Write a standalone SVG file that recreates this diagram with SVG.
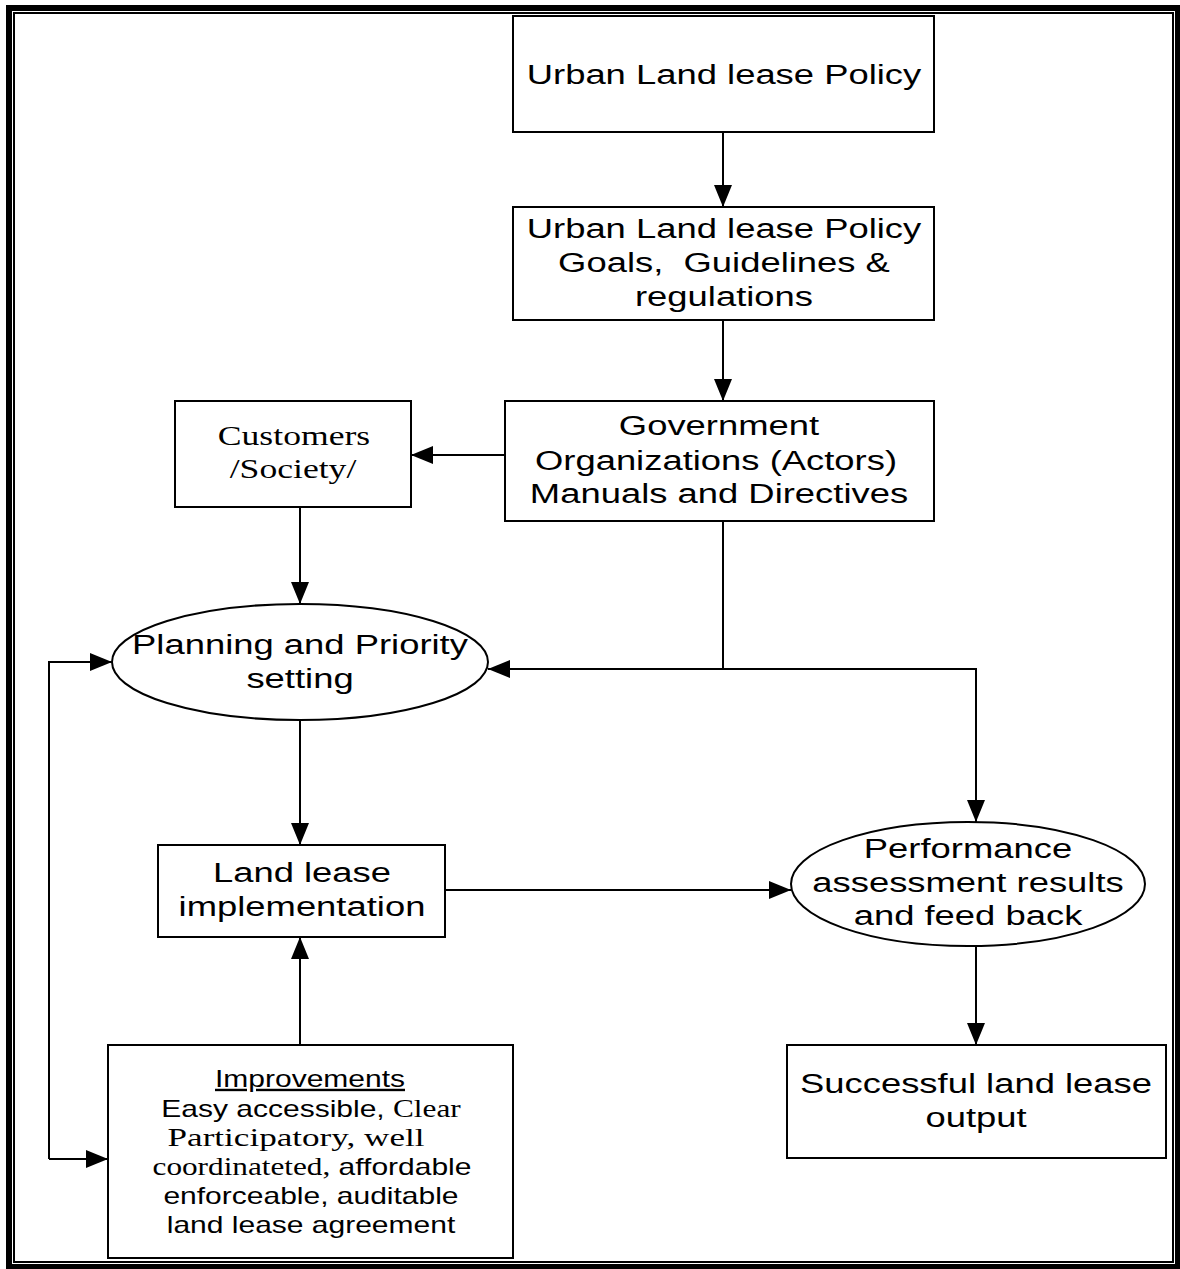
<svg xmlns="http://www.w3.org/2000/svg" width="1180" height="1269" viewBox="0 0 1180 1269">
  <style>
    .box { fill: #fff; stroke: #000; stroke-width: 2; }
    .wire { fill: none; stroke: #000; stroke-width: 2; }
    .sans { font-family: "Liberation Sans", Arial, sans-serif; font-size: 28px; fill: #000; text-anchor: middle; }
    .serif { font-family: "Liberation Serif", "Times New Roman", serif; fill: #000; }
    .small { font-family: "Liberation Sans", Arial, sans-serif; font-size: 24px; fill: #000; text-anchor: middle; }
  </style>
  <defs>
    <marker id="arrow" viewBox="0 0 22 18" refX="22" refY="9" markerWidth="22" markerHeight="18" markerUnits="userSpaceOnUse" orient="auto">
      <path d="M0,0 L22,9 L0,18 Z" fill="#000"/>
    </marker>
  </defs>

  <rect width="1180" height="1269" fill="#fff"/>

  <!-- page frame: thick outer line with thin inner line -->
  <rect x="9" y="8" width="1169" height="1259" fill="none" stroke="#000" stroke-width="6"/>
  <rect x="14" y="13" width="1159" height="1249" fill="none" stroke="#000" stroke-width="2"/>

  <g id="connectors">
    <line class="wire" x1="723" y1="132" x2="723" y2="207" marker-end="url(#arrow)"/>
    <line class="wire" x1="723" y1="320" x2="723" y2="401" marker-end="url(#arrow)"/>
    <line class="wire" x1="505" y1="455" x2="411" y2="455" marker-end="url(#arrow)"/>
    <line class="wire" x1="300" y1="507" x2="300" y2="604" marker-end="url(#arrow)"/>
    <polyline class="wire" points="723,521 723,669 488,669" marker-end="url(#arrow)"/>
    <polyline class="wire" points="723,669 976,669 976,822" marker-end="url(#arrow)"/>
    <line class="wire" x1="300" y1="720" x2="300" y2="845" marker-end="url(#arrow)"/>
    <line class="wire" x1="445" y1="890" x2="791" y2="890" marker-end="url(#arrow)"/>
    <line class="wire" x1="976" y1="946" x2="976" y2="1045" marker-end="url(#arrow)"/>
    <line class="wire" x1="300" y1="1045" x2="300" y2="937" marker-end="url(#arrow)"/>
    <polyline class="wire" points="49,1159 49,662 112,662" marker-end="url(#arrow)"/>
    <line class="wire" x1="49" y1="1159" x2="108" y2="1159" marker-end="url(#arrow)"/>
  </g>

  <!-- labels use a horizontal stretch of 1.3 (1.25 in the improvements box) -->
  <g id="policy">
    <rect class="box" x="513" y="16" width="421" height="116"/>
    <text class="sans" transform="translate(724,84) scale(1.3,1)">Urban Land lease Policy</text>
  </g>

  <g id="goals">
    <rect class="box" x="513" y="207" width="421" height="113"/>
    <text class="sans" transform="translate(724,238) scale(1.3,1)">Urban Land lease Policy</text>
    <text class="sans" transform="translate(724,272) scale(1.3,1)" xml:space="preserve">Goals,  Guidelines &amp;</text>
    <text class="sans" transform="translate(724,306) scale(1.3,1)">regulations</text>
  </g>

  <g id="government">
    <rect class="box" x="505" y="401" width="429" height="120"/>
    <text class="sans" transform="translate(719,435) scale(1.3,1)">Government</text>
    <text class="sans" transform="translate(716,470) scale(1.3,1)">Organizations (Actors)</text>
    <text class="sans" transform="translate(719,503) scale(1.3,1)">Manuals and Directives</text>
  </g>

  <g id="customers">
    <rect class="box" x="175" y="401" width="236" height="106"/>
    <text class="serif" font-size="27" text-anchor="middle" transform="translate(294,445) scale(1.32,1)">Customers</text>
    <text class="serif" font-size="27" text-anchor="middle" transform="translate(293,478) scale(1.32,1)">/Society/</text>
  </g>

  <g id="planning">
    <ellipse class="box" cx="300" cy="662" rx="188" ry="58"/>
    <text class="sans" transform="translate(300,654) scale(1.3,1)">Planning and Priority</text>
    <text class="sans" transform="translate(300,688) scale(1.3,1)">setting</text>
  </g>

  <g id="implementation">
    <rect class="box" x="158" y="845" width="287" height="92"/>
    <text class="sans" transform="translate(302,882) scale(1.3,1)">Land lease</text>
    <text class="sans" transform="translate(302,916) scale(1.3,1)">implementation</text>
  </g>

  <g id="performance">
    <ellipse class="box" cx="968" cy="884" rx="177" ry="62"/>
    <text class="sans" transform="translate(968,858) scale(1.3,1)">Performance</text>
    <text class="sans" transform="translate(968,892) scale(1.3,1)">assessment results</text>
    <text class="sans" transform="translate(968,925) scale(1.3,1)">and feed back</text>
  </g>

  <g id="output">
    <rect class="box" x="787" y="1045" width="379" height="113"/>
    <text class="sans" transform="translate(976,1093) scale(1.3,1)">Successful land lease</text>
    <text class="sans" transform="translate(976,1127) scale(1.3,1)">output</text>
  </g>

  <g id="improvements">
    <rect class="box" x="108" y="1045" width="405" height="213"/>
    <text class="small" text-decoration="underline" transform="translate(310,1087) scale(1.25,1)">Improvements</text>
    <text class="small" transform="translate(311,1117) scale(1.25,1)">Easy accessible, <tspan class="serif" font-size="25">Clear</tspan></text>
    <text class="serif" font-size="26" text-anchor="middle" transform="translate(296,1146) scale(1.35,1)">Participatory, well</text>
    <text class="small" transform="translate(312,1175) scale(1.25,1)"><tspan class="serif" font-size="25">coordinateted,</tspan> affordable</text>
    <text class="small" transform="translate(311,1204) scale(1.25,1)">enforceable, auditable</text>
    <text class="small" transform="translate(311,1233) scale(1.25,1)">land lease agreement</text>
  </g>
</svg>
